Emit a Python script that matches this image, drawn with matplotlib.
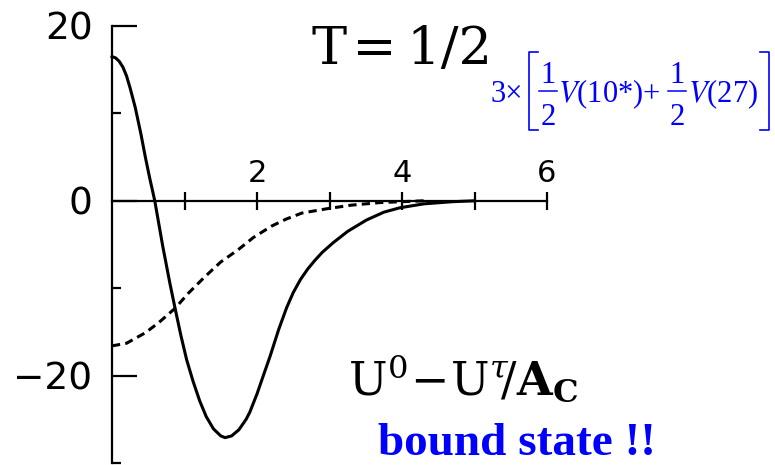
import numpy as np
import matplotlib
matplotlib.use("Agg")
import matplotlib.pyplot as plt
from matplotlib.lines import Line2D
from matplotlib.ticker import FixedLocator

# radial profiles
r_solid = [0.0, 0.05, 0.1, 0.15, 0.2, 0.25, 0.32, 0.4, 0.46, 0.52, 0.59, 0.7,
           0.8, 0.87, 0.95, 1.03, 1.12, 1.21, 1.3, 1.4, 1.5, 1.56, 1.65, 1.75,
           1.85, 1.9, 2.0, 2.1, 2.18, 2.3, 2.41, 2.5, 2.6, 2.7, 2.8, 2.9, 3.05,
           3.25, 3.51, 3.75, 3.97, 4.3, 4.7, 5.0]
u_solid = [16.5, 16.35, 15.95, 15.3, 14.3, 12.9, 10.7, 7.6, 5.0, 2.6, 0.0, -5.2,
           -9.5, -12.3, -15.4, -18.2, -20.7, -22.9, -24.7, -26.1, -26.9, -27.1,
           -26.9, -26.2, -25.0, -24.2, -22.1, -19.7, -17.8, -14.7, -12.2, -10.5,
           -9.0, -7.8, -6.8, -5.9, -4.8, -3.5, -2.2, -1.3, -0.8, -0.35, -0.1, 0.0]

r_dash = [0.0, 0.2, 0.46, 0.65, 0.87, 1.05, 1.28, 1.5, 1.74, 1.95, 2.2, 2.4,
          2.62, 2.97, 3.3, 3.7, 4.0, 4.3]
u_dash = [-16.6, -16.3, -15.1, -13.9, -12.3, -10.6, -8.7, -7.0, -5.6, -4.2,
          -2.9, -2.1, -1.4, -0.9, -0.5, -0.2, -0.1, 0.0]

x_major = [2, 4, 6]
x_minor = [1, 3, 5]
y_major = [-20, 0, 20]
y_minor = [-30, -10, 10]

W, H = 775, 465
BLUE = "#0000ff"


def px(x, y):
    # pixel position (from top-left) -> figure fraction
    return x / W, (H - y) / H


fig = plt.figure(figsize=(W / 100, H / 100), dpi=100)
ax = fig.add_axes([112 / W, 2 / H, 435 / W, 437 / H])
ax.set_xlim(0, 6)
ax.set_ylim(-30, 20)

ax.plot(r_solid, u_solid, color="black", lw=2.2, clip_on=False)
ax.plot(r_dash, u_dash, color="black", lw=2.2, ls=(0, (2.7, 1.7)), clip_on=False)

# axes: vertical at r=0, horizontal at U=0 with labels above
for s in ["right", "bottom"]:
    ax.spines[s].set_visible(False)
ax.spines["left"].set_linewidth(1.6)
ax.spines["left"].set_position(("data", 0))
ax.spines["top"].set_position(("data", 0))
ax.spines["top"].set_linewidth(1.6)
ax.spines["top"].set_bounds(0, 6)

ax.xaxis.set_ticks_position("top")
ax.xaxis.set_major_locator(FixedLocator(x_major))
ax.xaxis.set_minor_locator(FixedLocator(x_minor))
ax.tick_params(axis="x", which="both", direction="inout", length=13, width=1.6,
               pad=3, labelsize=22)
ax.yaxis.set_major_locator(FixedLocator(y_major))
ax.yaxis.set_minor_locator(FixedLocator(y_minor))
ax.tick_params(axis="y", which="major", direction="in", length=18, width=1.6,
               pad=14, labelsize=27)
ax.tick_params(axis="y", which="minor", direction="in", length=6.5, width=1.6)
ax.set_yticklabels(["\u221220", "0", "20"])
ax.set_facecolor("none")

fig.text(*px(312, 64), "T\u200a=\u20091/2", fontsize=38, family="DejaVu Serif",
         va="baseline", ha="left")

# 3 x [ 1/2 V(10*) + 1/2 V(27) ], typeset piece by piece
fkw = dict(fontsize=22, family="Liberation Serif", color=BLUE, va="baseline",
           math_fontfamily="stix")
fig.text(*px(491, 102), "3\u00d7", ha="left", **fkw)
fig.text(*px(558, 102), "$V$(10*)", ha="left", **fkw)
fig.text(*px(651, 102), "+", ha="center", **fkw)
fig.text(*px(688, 102), "$V$(27)", ha="left", **fkw)
for xc in [548, 677]:
    fig.text(*px(xc, 83), "1", ha="center", **fkw)
    fig.text(*px(xc, 125), "2", ha="center", **fkw)
    fig.add_artist(Line2D([(xc - 9) / W, (xc + 9) / W], [(H - 91) / H] * 2,
                          color=BLUE, lw=1.1))
fig.add_artist(Line2D(np.array([538, 529, 529, 538]) / W,
                      (H - np.array([52, 52, 130, 130])) / H, color=BLUE, lw=1.2))
fig.add_artist(Line2D(np.array([760, 769, 769, 760]) / W,
                      (H - np.array([52, 52, 130, 130])) / H, color=BLUE, lw=1.2))

fig.text(*px(348, 395),
         r"$\mathrm{U}^{0}\!-\!\mathrm{U}^{\tau}\!/\mathbf{A}_{\mathbf{C}}$",
         fontsize=33, math_fontfamily="dejavuserif", va="baseline", ha="left")
fig.text(*px(378, 455), "bound state !!", fontsize=34,
         family="Liberation Serif", weight="bold", color=BLUE,
         va="baseline", ha="left")

fig.savefig("out.png", dpi=100)
